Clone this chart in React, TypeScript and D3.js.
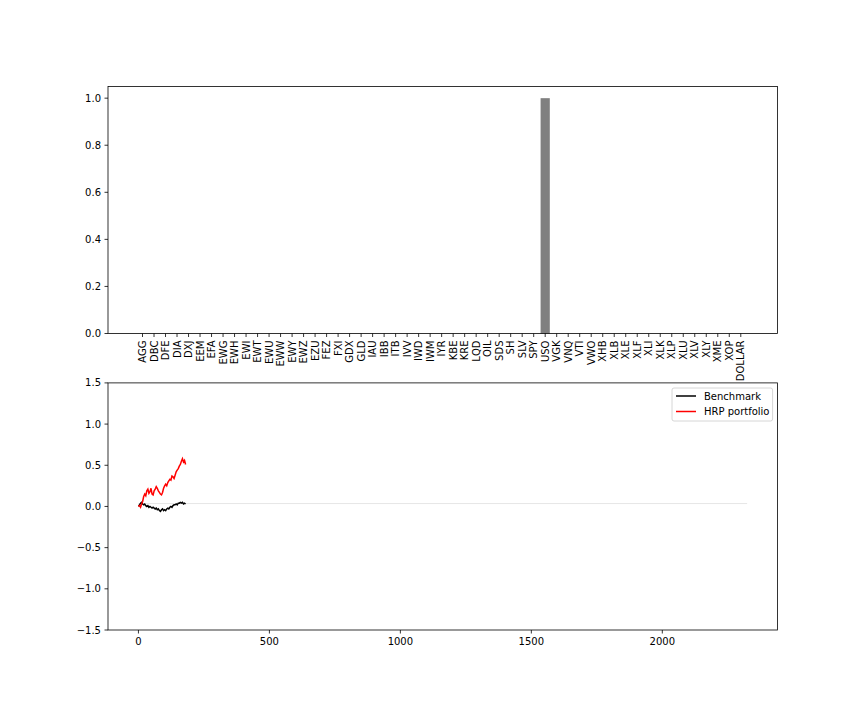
import * as d3 from 'd3';

const tickers = [
  'AGG', 'DBC', 'DFE', 'DIA', 'DXJ', 'EEM', 'EFA', 'EWG', 'EWH', 'EWI', 'EWT', 'EWU', 'EWW', 'EWY',
  'EWZ', 'EZU', 'FEZ', 'FXI', 'GDX', 'GLD', 'IAU', 'IBB', 'ITB', 'IVV', 'IWD', 'IWM', 'IYR', 'KBE',
  'KRE', 'LQD', 'OIL', 'SDS', 'SH', 'SLV', 'SPY', 'USO', 'VGK', 'VNQ', 'VTI', 'VWO', 'XHB', 'XLB',
  'XLE', 'XLF', 'XLI', 'XLK', 'XLP', 'XLU', 'XLV', 'XLY', 'XME', 'XOP', 'DOLLAR',
];
const weights = tickers.map((t) => (t === 'USO' ? 1 : 0));

const weightTicks = [0, 0.2, 0.4, 0.6, 0.8, 1.0];
const returnTicks = [-1.5, -1.0, -0.5, 0, 0.5, 1.0, 1.5];
const dayTicks = [0, 500, 1000, 1500, 2000];

// cumulative returns, sampled every 4 days
const days = [
  0, 4, 8, 12, 16, 20, 24, 28, 32, 36, 40, 44, 48, 52, 56, 60, 64, 68, 72, 76, 80, 84, 88,
  92, 96, 100, 104, 108, 112, 116, 120, 124, 128, 132, 136, 140, 144, 148, 152, 156, 160,
  164, 168, 172, 176, 180,
];
const benchmark = [
  0.0, 0.02, 0.04, 0.05, 0.03, 0.02, 0.03, 0.01, 0.0, 0.01, -0.01, 0.0, -0.01, -0.02, -0.01,
  -0.02, -0.03, -0.02, -0.04, -0.03, -0.05, -0.06, -0.04, -0.03, -0.05, -0.04, -0.05, -0.03,
  -0.02, -0.03, -0.01, 0.0, -0.01, 0.01, 0.02, 0.02, 0.03, 0.02, 0.04, 0.04, 0.05, 0.04, 0.05,
  0.03, 0.04, 0.03,
];
const hrp = [
  0.0, 0.01, -0.01, 0.03, 0.06, 0.12, 0.15, 0.13, 0.19, 0.21, 0.16, 0.18, 0.22, 0.15, 0.14,
  0.19, 0.21, 0.24, 0.22, 0.19, 0.17, 0.15, 0.14, 0.17, 0.22, 0.25, 0.27, 0.25, 0.29, 0.31,
  0.33, 0.32, 0.37, 0.36, 0.34, 0.38, 0.42, 0.44, 0.46, 0.49, 0.51, 0.55, 0.58, 0.54, 0.56,
  0.51,
];
const faintDays = [0, 2324];
const faintValues = [0.035, 0.035];

const W = 864;
const H = 720;
const left = 108;
const right = 777.6;
const top1 = 86.4;
const bottom1 = 333.5;
const top2 = 382.9;
const bottom2 = 630;
const font = 'DejaVu Sans, sans-serif';

const xBar = d3.scaleLinear().domain([-3, 55.2]).range([left, right]);
const yBar = d3.scaleLinear().domain([0, 1.05]).range([bottom1, top1]);
const xDay = d3.scaleLinear().domain([-116.2, 2440.2]).range([left, right]);
const yRet = d3.scaleLinear().domain([-1.5, 1.5]).range([bottom2, top2]);

const line = d3
  .line<[number, number]>()
  .x((d) => xDay(d[0]))
  .y((d) => yRet(d[1]));

const zip = (xs: number[], ys: number[]) => xs.map((x, i) => [x, ys[i]] as [number, number]);

function YAxis({ ticks, scale, fmt }: { ticks: number[]; scale: d3.ScaleLinear<number, number>; fmt: (v: number) => string }) {
  return (
    <g>
      {ticks.map((t) => (
        <g key={t} transform={`translate(${left},${scale(t)})`}>
          <line x1={-3.5} x2={0} stroke="black" strokeWidth={0.8} />
          <text x={-7} textAnchor="end" dominantBaseline="central" fontSize={10} fontFamily={font}>
            {fmt(t).replace('-', '\u2212')}
          </text>
        </g>
      ))}
    </g>
  );
}

function Frame({ y0, y1 }: { y0: number; y1: number }) {
  return <rect x={left} y={y0} width={right - left} height={y1 - y0} fill="none" stroke="black" strokeWidth={0.8} />;
}

export default function App() {
  const barW = xBar(0.8) - xBar(0);
  return (
    <svg width={W} height={H} style={{ position: 'absolute', left: 0, top: 0, background: 'white' }}>
      <rect width={W} height={H} fill="white" />

      {/* weights */}
      {tickers.map((t, i) => (
        <rect
          key={t}
          x={xBar(i) - barW / 2}
          y={yBar(weights[i])}
          width={barW}
          height={yBar(0) - yBar(weights[i])}
          fill="grey"
        />
      ))}
      <YAxis ticks={weightTicks} scale={yBar} fmt={d3.format('.1f')} />
      {tickers.map((t, i) => (
        <g key={t} transform={`translate(${xBar(i)},${bottom1})`}>
          <line y1={0} y2={3.5} stroke="black" strokeWidth={0.8} />
          <text
            transform="translate(0,7) rotate(-90)"
            textAnchor="end"
            dominantBaseline="central"
            fontSize={10}
            fontFamily={font}
          >
            {t}
          </text>
        </g>
      ))}
      <Frame y0={top1} y1={bottom1} />

      {/* cumulative returns */}
      <path d={line(zip(faintDays, faintValues)) ?? ''} fill="none" stroke="#e6e6e6" strokeWidth={1} />
      <path d={line(zip(days, benchmark)) ?? ''} fill="none" stroke="black" strokeWidth={1.5} />
      <path d={line(zip(days, hrp)) ?? ''} fill="none" stroke="red" strokeWidth={1.5} />
      <YAxis ticks={returnTicks} scale={yRet} fmt={d3.format('.1f')} />
      {dayTicks.map((t) => (
        <g key={t} transform={`translate(${xDay(t)},${bottom2})`}>
          <line y1={0} y2={3.5} stroke="black" strokeWidth={0.8} />
          <text y={7} dy="0.76em" textAnchor="middle" fontSize={10} fontFamily={font}>
            {t}
          </text>
        </g>
      ))}
      <Frame y0={top2} y1={bottom2} />

      {/* legend */}
      <g>
        <rect x={672} y={388} width={100.6} height={33} rx={2} fill="white" fillOpacity={0.8} stroke="#cccccc" strokeWidth={0.8} />
        {[
          { label: 'Benchmark', color: 'black' },
          { label: 'HRP portfolio', color: 'red' },
        ].map((d, i) => (
          <g key={d.label} transform={`translate(676,${396 + i * 15.5})`}>
            <line x1={0} x2={20} stroke={d.color} strokeWidth={1.5} />
            <text x={28} dominantBaseline="central" fontSize={10} fontFamily={font}>
              {d.label}
            </text>
          </g>
        ))}
      </g>
    </svg>
  );
}
